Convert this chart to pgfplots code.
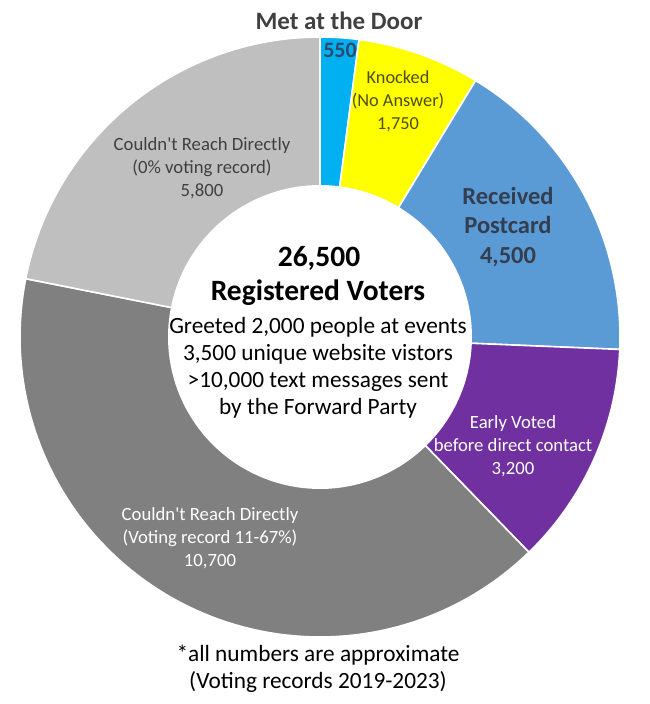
\documentclass[border=0pt]{standalone}
\usepackage{pgfplots}
\pgfplotsset{compat=1.18}
\usepackage{fontspec}
\setmainfont{Carlito}
\definecolor{cCyan}{HTML}{00B0F0}
\definecolor{cYellow}{HTML}{FFFF00}
\definecolor{cBlue}{HTML}{5B9BD5}
\definecolor{cPurple}{HTML}{7030A0}
\definecolor{cDark}{HTML}{808080}
\definecolor{cLight}{HTML}{BFBFBF}
\definecolor{tGray}{HTML}{404040}
\definecolor{tNavy}{HTML}{2E4B6B}
\definecolor{tOlive}{HTML}{4D4D1A}
\definecolor{tSlate}{HTML}{333F50}
\def\total{26500}
\def\cum{0}
\newcommand{\slice}[2]{%
  \pgfkeys{/pgf/fpu=true,/pgf/fpu/output format=fixed}%
  \pgfmathsetmacro\angA{90-360*\cum/\total}%
  \pgfmathsetmacro\newcum{\cum+#1}%
  \pgfmathsetmacro\angB{90-360*\newcum/\total}%
  \pgfkeys{/pgf/fpu=false}%
  \xdef\cum{\newcum}%
  \edef\doslice{\noexpand\addplot[fill=#2, draw=white, line width=1.6pt, domain=\angB:\angA, samples=90] ({320+300*cos(x)},{367+300*sin(x)}) -- (axis cs:320,367) -- cycle;}%
  \doslice
}
\begin{document}
\begin{tikzpicture}
\begin{axis}[width=650pt, height=704pt, scale only axis,
  xmin=0, xmax=650, ymin=0, ymax=704, hide axis, clip=false]
\path (axis cs:0,0) rectangle (axis cs:650,704);
\slice{550}{cCyan}
\slice{1750}{cYellow}
\slice{4500}{cBlue}
\slice{3200}{cPurple}
\slice{10700}{cDark}
\slice{5800}{cLight}
\addplot[fill=white, draw=none, domain=0:360, samples=150] ({320+152*cos(x)},{367+152*sin(x)}) -- cycle;
% labels
\node[font=\fontsize{25}{29}\selectfont\bfseries, text=tGray] at (axis cs:339,683) {Met at the Door};
\node[font=\fontsize{22}{26}\selectfont\bfseries, text=tNavy] at (axis cs:340,654) {550};
\node[align=center, font=\fontsize{18.3}{23}\selectfont, text=tOlive] at (axis cs:398,603) {Knocked\\(No Answer)\\1,750};
\node[align=center, font=\fontsize{24.5}{29.5}\selectfont\bfseries, text=tSlate] at (axis cs:508,477) {Received\\Postcard\\4,500};
\node[align=center, font=\fontsize{18.7}{23}\selectfont, text=white] at (axis cs:513,258) {Early Voted\\before direct contact\\3,200};
\node[align=center, font=\fontsize{18.7}{23}\selectfont, text=white] at (axis cs:210,166) {Couldn\textquotesingle t Reach Directly\\(Voting record 11-67\%)\\10,700};
\node[align=center, font=\fontsize{18.7}{23}\selectfont, text=tGray] at (axis cs:202,536) {Couldn\textquotesingle t Reach Directly\\(0\% voting record)\\5,800};
% centre
\node[font=\fontsize{29.5}{34}\selectfont\bfseries, text=black] at (axis cs:319,446) {26,500};
\node[font=\fontsize{29.5}{34}\selectfont\bfseries, text=black] at (axis cs:318,411) {Registered Voters};
\node[align=center, font=\fontsize{23.3}{27}\selectfont, text=black] at (axis cs:318,336) {Greeted 2,000 people at events\\3,500 unique website vistors\\>10,000 text messages sent\\by the Forward Party};
% footnote
\node[align=center, font=\fontsize{23.3}{27}\selectfont, text=black] at (axis cs:318,35.5) {*all numbers are approximate\\(Voting records 2019-2023)};
\end{axis}
\end{tikzpicture}
\end{document}
